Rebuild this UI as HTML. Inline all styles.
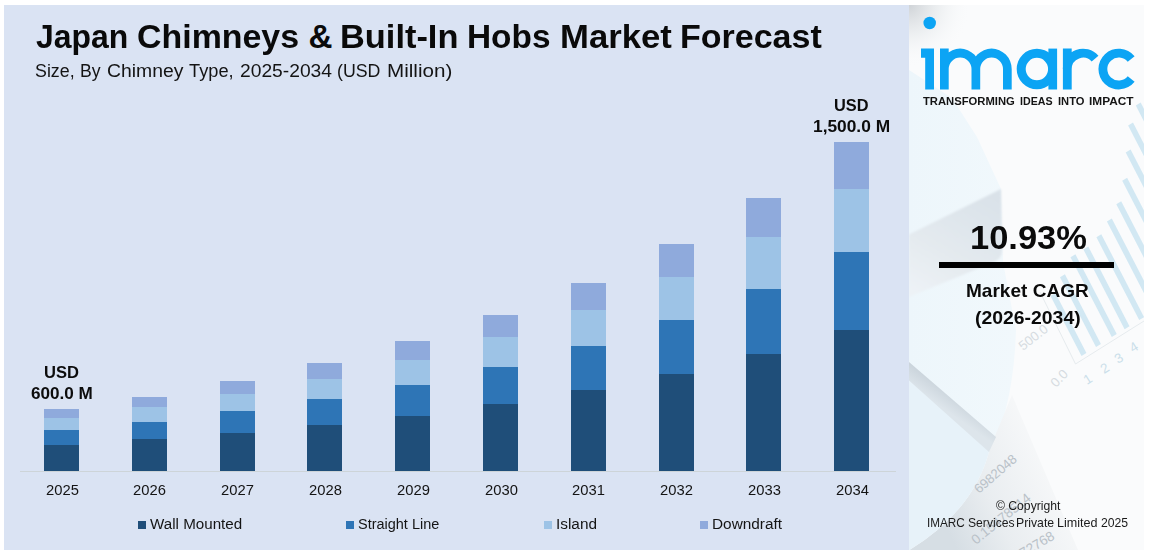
<!DOCTYPE html>
<html lang="en"><head><meta charset="utf-8"><title>Japan Chimneys &amp; Built-In Hobs Market Forecast</title>
<style>
html,body{margin:0;padding:0;background:#fff}
body{width:1149px;height:553px;position:relative;overflow:hidden;font-family:"Liberation Sans",sans-serif;color:#0c0c0c}
.t{position:absolute;white-space:nowrap;line-height:1;margin:0;padding:0;font-weight:normal;transform-origin:0 0}
.b{font-weight:bold}
.w{margin:0;padding:0;font:inherit;display:contents}
#left{position:absolute;left:4px;top:5px;width:905px;height:545px;background:#DAE3F3}
#right{position:absolute;left:909px;top:5px;width:235px;height:545px;background:#F8FAFC;overflow:hidden}
.bar{position:absolute;width:35px}
.bar div{position:absolute;left:0;width:35px}
.s0{background:#8FAADC}.s1{background:#9DC3E6}.s2{background:#2E75B6}.s3{background:#1F4E79}
.sq{position:absolute;top:521px;width:8px;height:8px}
#axis{position:absolute;left:20px;top:470.5px;width:876px;height:1px;background:#cdd4d8}
#rule{position:absolute;left:939px;top:262px;width:175px;height:6px;background:#000}
</style></head><body>
<div id="left"></div>
<div id="right">
<svg id="rbg" style="position:absolute;left:0;top:0" width="235" height="545" viewBox="909 5 235 545">
<defs>
<radialGradient id="gc" gradientUnits="userSpaceOnUse" cx="909" cy="5" r="62"><stop offset="0" stop-color="#cfd3d7"/><stop offset="0.5" stop-color="#e9ecee" stop-opacity="0.7"/><stop offset="1" stop-color="#fafbfc" stop-opacity="0"/></radialGradient>
<linearGradient id="gw" gradientUnits="userSpaceOnUse" x1="990" y1="195" x2="930" y2="300"><stop offset="0" stop-color="#dae2e9"/><stop offset="0.6" stop-color="#e4eaef"/><stop offset="1" stop-color="#edf2f6"/></linearGradient>
<linearGradient id="gb" gradientUnits="userSpaceOnUse" x1="960" y1="395" x2="948" y2="412"><stop offset="0" stop-color="#c7d1d9"/><stop offset="1" stop-color="#dde5eb"/></linearGradient>
<linearGradient id="gp" gradientUnits="userSpaceOnUse" x1="945" y1="525" x2="1060" y2="470"><stop offset="0" stop-color="#d6dee4"/><stop offset="0.4" stop-color="#e9edf0"/><stop offset="1" stop-color="#f8f9fa"/></linearGradient>
<linearGradient id="gl" gradientUnits="userSpaceOnUse" x1="909" y1="0" x2="1015" y2="0"><stop offset="0" stop-color="#edf6fb"/><stop offset="1" stop-color="#f1f8fc"/></linearGradient>
<filter id="bl" x="-10%" y="-10%" width="120%" height="120%"><feGaussianBlur stdDeviation="0.9"/></filter>
</defs>
<rect x="909" y="5" width="235" height="545" fill="#fafbfc"/>
<path d="M909 70 L952 98 L977 137 L1001 189 L1003 262 L1016 330 Q1014 400 992 450 L909 470Z" fill="url(#gl)"/>
<rect x="909" y="5" width="90" height="90" fill="url(#gc)"/>
<path d="M909 234.5 L1001 189 L1002 250 Q1002 259 994 262 L909 297Z" fill="url(#gw)" filter="url(#bl)"/>
<path d="M1012 395 L1078 550 L909.5 550 Q975 510 990 448Z" fill="url(#gp)"/>
<path d="M909 378 L990 448 Q975 510 909.5 550 L909 550Z" fill="#e7f2f9"/>
<path d="M909 362 L996 437 L989 452 L909 380.5Z" fill="url(#gb)"/>
<text x="979" y="494" font-size="13.2" fill="#b9c1c8" opacity="1" transform="rotate(-41 979 494)" font-family="&quot;Liberation Sans&quot;, sans-serif">6982048</text>
<text x="976" y="545" font-size="13.6" fill="#b9c1c8" opacity="1" transform="rotate(-39 976 545)" font-family="&quot;Liberation Sans&quot;, sans-serif">0.15478514</text>
<text x="1023" y="558" font-size="13.6" fill="#b9c1c8" opacity="1" transform="rotate(-31 1023 558)" font-family="&quot;Liberation Sans&quot;, sans-serif">72768</text>
<path d="M1135.8 105.6L1140.7 102.6L1225.6 266.7L1220.7 269.7Z" fill="#d2e8f3"/>
<path d="M1128.1 125.6L1133.0 122.6L1211.9 275.2L1207.0 278.2Z" fill="#d2e8f3"/>
<path d="M1125.7 152.6L1130.6 149.6L1199.5 282.8L1194.6 285.9Z" fill="#d2e8f3"/>
<path d="M1122.2 180.8L1127.1 177.8L1185.8 291.3L1180.9 294.3Z" fill="#d2e8f3"/>
<path d="M1116.3 204.3L1121.2 201.3L1172.1 299.8L1167.2 302.8Z" fill="#d2e8f3"/>
<path d="M1106.9 221.5L1111.8 218.5L1158.3 308.4L1153.4 311.4Z" fill="#d2e8f3"/>
<path d="M1096.4 237.3L1101.3 234.3L1144.1 317.1L1139.2 320.1Z" fill="#d2e8f3"/>
<path d="M1083.4 249.5L1088.3 246.5L1129.5 326.2L1124.6 329.2Z" fill="#d2e8f3"/>
<path d="M1070.5 257.3L1075.4 254.3L1116.7 334.1L1111.8 337.1Z" fill="#d2e8f3"/>
<path d="M1060.0 277.3L1064.9 274.3L1100.9 343.9L1096.0 346.9Z" fill="#d2e8f3"/>
<path d="M1050.5 296.0L1055.4 293.0L1086.4 352.9L1081.5 355.9Z" fill="#d2e8f3"/>
<path d="M1040 292 L1075.5 364 L1144 321" fill="none" stroke="#e6ebee" stroke-width="1"/>
<text x="1023" y="351" font-size="13.2" fill="#d6dce1" opacity="1" transform="rotate(-38 1023 351)" font-family="&quot;Liberation Sans&quot;, sans-serif">500.0</text>
<text x="1056" y="388" font-size="13.2" fill="#d6dce1" opacity="1" transform="rotate(-46 1056 388)" font-family="&quot;Liberation Sans&quot;, sans-serif">0.0</text>
<text x="1087" y="385" font-size="13.5" fill="#cbdfea" opacity="1" transform="rotate(-32 1087 385)" font-family="&quot;Liberation Sans&quot;, sans-serif">1</text>
<text x="1104" y="374" font-size="13.5" fill="#cbdfea" opacity="1" transform="rotate(-32 1104 374)" font-family="&quot;Liberation Sans&quot;, sans-serif">2</text>
<text x="1118" y="364" font-size="13.5" fill="#cbdfea" opacity="1" transform="rotate(-32 1118 364)" font-family="&quot;Liberation Sans&quot;, sans-serif">3</text>
<text x="1133" y="353" font-size="13.5" fill="#cbdfea" opacity="1" transform="rotate(-32 1133 353)" font-family="&quot;Liberation Sans&quot;, sans-serif">4</text>
</svg>
</div>
<div id="axis"></div>
<div class="bar" style="left:44.0px;top:409px;height:62px"><div class="s0" style="top:0px;height:9px"></div><div class="s1" style="top:9px;height:12px"></div><div class="s2" style="top:21px;height:15px"></div><div class="s3" style="top:36px;height:26px"></div></div>
<div class="bar" style="left:131.8px;top:397px;height:74px"><div class="s0" style="top:0px;height:10px"></div><div class="s1" style="top:10px;height:15px"></div><div class="s2" style="top:25px;height:17px"></div><div class="s3" style="top:42px;height:32px"></div></div>
<div class="bar" style="left:219.6px;top:381px;height:90px"><div class="s0" style="top:0px;height:13px"></div><div class="s1" style="top:13px;height:17px"></div><div class="s2" style="top:30px;height:22px"></div><div class="s3" style="top:52px;height:38px"></div></div>
<div class="bar" style="left:307.4px;top:363px;height:108px"><div class="s0" style="top:0px;height:16px"></div><div class="s1" style="top:16px;height:20px"></div><div class="s2" style="top:36px;height:26px"></div><div class="s3" style="top:62px;height:46px"></div></div>
<div class="bar" style="left:395.2px;top:341px;height:130px"><div class="s0" style="top:0px;height:19px"></div><div class="s1" style="top:19px;height:25px"></div><div class="s2" style="top:44px;height:31px"></div><div class="s3" style="top:75px;height:55px"></div></div>
<div class="bar" style="left:483.0px;top:315px;height:156px"><div class="s0" style="top:0px;height:22px"></div><div class="s1" style="top:22px;height:30px"></div><div class="s2" style="top:52px;height:37px"></div><div class="s3" style="top:89px;height:67px"></div></div>
<div class="bar" style="left:570.8px;top:283px;height:188px"><div class="s0" style="top:0px;height:27px"></div><div class="s1" style="top:27px;height:36px"></div><div class="s2" style="top:63px;height:44px"></div><div class="s3" style="top:107px;height:81px"></div></div>
<div class="bar" style="left:658.6px;top:244px;height:227px"><div class="s0" style="top:0px;height:33px"></div><div class="s1" style="top:33px;height:43px"></div><div class="s2" style="top:76px;height:54px"></div><div class="s3" style="top:130px;height:97px"></div></div>
<div class="bar" style="left:746.4px;top:198px;height:273px"><div class="s0" style="top:0px;height:39px"></div><div class="s1" style="top:39px;height:52px"></div><div class="s2" style="top:91px;height:65px"></div><div class="s3" style="top:156px;height:117px"></div></div>
<div class="bar" style="left:834.2px;top:142px;height:329px"><div class="s0" style="top:0px;height:47px"></div><div class="s1" style="top:47px;height:63px"></div><div class="s2" style="top:110px;height:78px"></div><div class="s3" style="top:188px;height:141px"></div></div>
<div class="sq" style="left:138px;background:#1F4E79"></div>
<div class="sq" style="left:346px;background:#2E75B6"></div>
<div class="sq" style="left:544px;background:#9DC3E6"></div>
<div class="sq" style="left:700px;background:#8FAADC"></div>
<svg id="logo" style="position:absolute;left:915px;top:12px" width="225" height="82" viewBox="915 12 225 82" fill="#0CA4F4"><circle cx="929.7" cy="23" r="6.25"/><path d="M921 48.6H934V89.5H925.2V57.8H921Z"/><path d="M940.0 48.6h8.7V89.5h-8.7ZM940.00 69.05A20.1 20.449999999999996 0 0 1 980.20 69.05L971.50 69.05A11.4 11.5 0 0 0 948.70 69.05ZM971.5 69.05h8.7V89.5h-8.7ZM971.50 69.05A20.1 20.449999999999996 0 0 1 1011.70 69.05L1003.00 69.05A11.4 11.5 0 0 0 980.20 69.05ZM1003.0 69.05h8.7V89.5h-8.7Z"/><path d="M1016.7 69.05a20.200000000000003 20.200000000000003 0 1 1 40.400000000000006 0a20.200000000000003 20.200000000000003 0 1 1 -40.400000000000006 0ZM1025.7 69.05a11.2 11.2 0 1 0 22.4 0a11.2 11.2 0 1 0 -22.4 0Z"/><path d="M1048.4 48.6H1057.1V89.5H1048.4Z"/><path d="M1062.9 48.6h8.8V89.5h-8.8ZM1062.75 69.05A20.35 20.35 0 0 1 1098.46 55.70L1091.70 61.57A11.4 11.4 0 0 0 1071.70 69.05Z"/><path d="M1134.61 81.86A20.35 20.35 0 1 1 1134.61 56.24L1127.74 61.81A11.5 11.5 0 1 0 1127.74 76.29Z"/></svg>
<div id="rule"></div>
<div class="w" id="tag"><span class="t b" id="tg0" style="left:923.00px;top:95.75px;font-size:11.4px;color:#141414;transform:scaleX(0.9876)">TRANSFORMING</span>
<span class="t b" id="tg1" style="left:1019.60px;top:95.75px;font-size:11.4px;color:#141414;transform:scaleX(0.9343)">IDEAS</span>
<span class="t b" id="tg2" style="left:1057.60px;top:95.75px;font-size:11.4px;color:#141414;transform:scaleX(0.9800)">INTO</span>
<span class="t b" id="tg3" style="left:1088.60px;top:95.75px;font-size:11.4px;color:#141414;transform:scaleX(1.0407)">IMPACT</span></div>
<div class="w" id="cp2"><span class="t" id="cq0" style="left:926.90px;top:516.31px;font-size:13.1px;color:#1a1a1a;transform:scaleX(0.8960)">IMARC</span>
<span class="t" id="cq1" style="left:967.50px;top:516.31px;font-size:13.1px;color:#1a1a1a;transform:scaleX(0.9277)">Services</span>
<span class="t" id="cq2" style="left:1016.27px;top:516.31px;font-size:13.1px;color:#1a1a1a;transform:scaleX(0.9349)">Private</span>
<span class="t" id="cq3" style="left:1056.74px;top:516.31px;font-size:13.1px;color:#1a1a1a;transform:scaleX(0.9602)">Limited</span>
<span class="t" id="cq4" style="left:1101.00px;top:516.31px;font-size:13.1px;color:#1a1a1a;transform:scaleX(0.9325)">2025</span></div>
<h1 class="w" id="title"><span class="t b" id="ti0" style="left:36.00px;top:20.30px;font-size:33.2px;color:#0a0a0a;transform:scaleX(0.9615)">Japan</span>
<span class="t b" id="ti1" style="left:137.38px;top:20.30px;font-size:33.2px;color:#0a0a0a;transform:scaleX(1.0219)">Chimneys</span>
<span class="t b" id="ti2" style="left:308.40px;top:20.30px;font-size:33.2px;color:#0a0a0a;transform:scaleX(1.0000)">&amp;</span>
<span class="t b" id="ti3" style="left:339.93px;top:20.30px;font-size:33.2px;color:#0a0a0a;transform:scaleX(1.0360)">Built-In</span>
<span class="t b" id="ti4" style="left:466.99px;top:20.30px;font-size:33.2px;color:#0a0a0a;transform:scaleX(1.0061)">Hobs</span>
<span class="t b" id="ti5" style="left:560.31px;top:20.30px;font-size:33.2px;color:#0a0a0a;transform:scaleX(1.0445)">Market</span>
<span class="t b" id="ti6" style="left:680.35px;top:20.30px;font-size:33.2px;color:#0a0a0a;transform:scaleX(1.0243)">Forecast</span></h1>
<div class="w" id="sub"><span class="t" id="su0" style="left:35.40px;top:62.16px;font-size:18.0px;color:#141414;transform:scaleX(0.9893)">Size,</span>
<span class="t" id="su1" style="left:80.02px;top:62.16px;font-size:18.0px;color:#141414;transform:scaleX(0.9797)">By</span>
<span class="t" id="su2" style="left:106.60px;top:62.16px;font-size:18.0px;color:#141414;transform:scaleX(1.0757)">Chimney</span>
<span class="t" id="su3" style="left:189.40px;top:62.16px;font-size:18.0px;color:#141414;transform:scaleX(1.0134)">Type,</span>
<span class="t" id="su4" style="left:239.60px;top:62.16px;font-size:18.0px;color:#141414;transform:scaleX(1.0689)">2025-2034</span>
<span class="t" id="su5" style="left:337.01px;top:62.16px;font-size:18.0px;color:#141414;transform:scaleX(0.9861)">(USD</span>
<span class="t" id="su6" style="left:386.85px;top:62.16px;font-size:18.0px;color:#141414;transform:scaleX(1.1452)">Million)</span></div>
<div class="t b" id="u1" style="left:44.10px;top:364.00px;font-size:16.3px;color:#0c0c0c;transform:scaleX(1.0168)">USD</div>
<div class="t b" id="v1" style="left:31.10px;top:385.00px;font-size:16.3px;color:#0c0c0c;transform:scaleX(1.0521)">600.0 M</div>
<div class="t b" id="u2" style="left:834.30px;top:97.00px;font-size:16.3px;color:#0c0c0c;transform:scaleX(1.0053)">USD</div>
<div class="t b" id="v2" style="left:812.74px;top:118.00px;font-size:16.3px;color:#0c0c0c;transform:scaleX(1.0643)">1,500.0 M</div>
<div class="t" id="l1" style="left:150.00px;top:516.95px;font-size:14.0px;color:#141414;transform:scaleX(1.0832)">Wall Mounted</div>
<div class="t" id="l2" style="left:358.00px;top:516.95px;font-size:14.0px;color:#141414;transform:scaleX(1.0340)">Straight Line</div>
<div class="t" id="l3" style="left:555.70px;top:516.95px;font-size:14.0px;color:#141414;transform:scaleX(1.0964)">Island</div>
<div class="t" id="l4" style="left:711.70px;top:516.95px;font-size:14.0px;color:#141414;transform:scaleX(1.0983)">Downdraft</div>
<div class="t b" id="cagr" style="left:969.64px;top:221.13px;font-size:33.4px;color:#0a0a0a;transform:scaleX(1.0320)">10.93%</div>
<div class="t b" id="mc" style="left:965.93px;top:282.93px;font-size:17.8px;color:#0a0a0a;transform:scaleX(1.0705)">Market CAGR</div>
<div class="t b" id="rng" style="left:975.30px;top:309.93px;font-size:17.8px;color:#0a0a0a;transform:scaleX(1.0902)">(2026-2034)</div>
<div class="t" id="cp1" style="left:995.70px;top:499.31px;font-size:13.1px;color:#1a1a1a;transform:scaleX(0.9284)">© Copyright</div>
<div class="t" id="y2025" style="left:45.60px;top:483.30px;font-size:14.3px;color:#141414;transform:scaleX(1.0328)">2025</div>
<div class="t" id="y2026" style="left:133.40px;top:483.30px;font-size:14.3px;color:#141414;transform:scaleX(1.0328)">2026</div>
<div class="t" id="y2027" style="left:221.20px;top:483.30px;font-size:14.3px;color:#141414;transform:scaleX(1.0328)">2027</div>
<div class="t" id="y2028" style="left:309.00px;top:483.30px;font-size:14.3px;color:#141414;transform:scaleX(1.0328)">2028</div>
<div class="t" id="y2029" style="left:396.80px;top:483.30px;font-size:14.3px;color:#141414;transform:scaleX(1.0328)">2029</div>
<div class="t" id="y2030" style="left:484.60px;top:483.30px;font-size:14.3px;color:#141414;transform:scaleX(1.0328)">2030</div>
<div class="t" id="y2031" style="left:572.40px;top:483.30px;font-size:14.3px;color:#141414;transform:scaleX(1.0328)">2031</div>
<div class="t" id="y2032" style="left:660.20px;top:483.30px;font-size:14.3px;color:#141414;transform:scaleX(1.0328)">2032</div>
<div class="t" id="y2033" style="left:748.00px;top:483.30px;font-size:14.3px;color:#141414;transform:scaleX(1.0328)">2033</div>
<div class="t" id="y2034" style="left:835.80px;top:483.30px;font-size:14.3px;color:#141414;transform:scaleX(1.0328)">2034</div>
</body></html>
